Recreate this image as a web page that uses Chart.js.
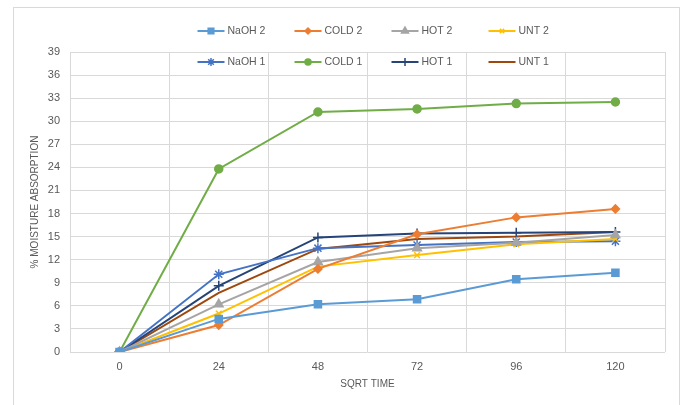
<!DOCTYPE html>
<html lang="en">
<head>
    <meta charset="UTF-8">
    <title>Moisture absorption</title>
    <script src="https://cdn.jsdelivr.net/npm/chart.js"></script>
    <style>
        body {
            margin: 0;
            padding: 0;
            background-color: #ffffff;
            overflow: hidden;
        }
        .frame {
            position: absolute;
            left: 13px;
            top: 7px;
            width: 665px;
            height: 420px;
            border: 1px solid #d9d9d9;
        }
        .chart-container {
            position: absolute;
            left: 0;
            top: 0;
            width: 683px;
            height: 405px;
        }
    </style>
</head>
<body>
    <div class="frame"></div>
    <div class="chart-container">
        <canvas id="moistureChart"></canvas>
    </div>

    <script>
        // categories (x axis)
        const sqrtTime = ['0', '24', '48', '72', '96', '120'];
        const yTicks = [0, 3, 6, 9, 12, 15, 18, 21, 24, 27, 30, 33, 36, 39];

        // series values
        const naoh2 = [0, 4.3, 6.2, 6.85, 9.45, 10.3];
        const cold2 = [0, 3.5, 10.8, 15.3, 17.5, 18.6];
        const hot2  = [0, 6.2, 11.7, 13.5, 14.2, 15.2];
        const unt2  = [0, 5.0, 11.1, 12.6, 14.0, 14.7];
        const naoh1 = [0, 10.1, 13.5, 13.9, 14.3, 14.4];
        const cold1 = [0, 23.8, 31.2, 31.6, 32.3, 32.5];
        const hot1  = [0, 8.6, 14.9, 15.4, 15.5, 15.6];
        const unt1  = [0, 7.7, 13.4, 14.7, 15.0, 15.6];

        const textColor = '#595959';
        const gridColor = '#d9d9d9';
        const fontFamily = "'Liberation Sans', Arial, sans-serif";

        function series(label, data, color, style, radius) {
            return {
                label: label,
                data: data,
                borderColor: color,
                backgroundColor: color,
                borderWidth: 2,
                pointStyle: style,
                pointRadius: style ? radius : 0,
                pointBorderWidth: 1.5,
                tension: 0
            };
        }

        // legend draws 4 per row, in this order
        const datasets = [
            series('NaOH 2', naoh2, '#5b9bd5', 'rect', 5),
            series('COLD 2', cold2, '#ed7d31', 'rectRot', 4),
            series('HOT 2', hot2, '#a5a5a5', 'triangle', 5),
            series('UNT 2', unt2, '#ffc000', 'crossRot', 4),
            series('NaOH 1', naoh1, '#4472c4', 'star', 5),
            series('COLD 1', cold1, '#70ad47', 'circle', 4),
            series('HOT 1', hot1, '#264478', 'cross', 5),
            series('UNT 1', unt1, '#9e480e', false, 0)
        ];

        // excel style legend: short line with the marker in the middle
        const gridLegend = {
            id: 'gridLegend',
            afterDraw(chart) {
                const ctx = chart.ctx;
                const area = chart.chartArea;
                const mid = (area.left + area.right) / 2;
                const colStep = 97;
                const startX = mid - 170;
                const rowY = [area.top - 21, area.top + 10];
                ctx.save();
                chart.data.datasets.forEach((ds, i) => {
                    const x = startX + (i % 4) * colStep;
                    const y = rowY[Math.floor(i / 4)];
                    ctx.strokeStyle = ds.borderColor;
                    ctx.fillStyle = ds.backgroundColor;
                    ctx.lineWidth = 2;
                    ctx.beginPath();
                    ctx.moveTo(x, y);
                    ctx.lineTo(x + 27, y);
                    ctx.stroke();
                    if (ds.pointStyle) {
                        ctx.lineWidth = 1.5;
                        Chart.helpers.drawPoint(ctx, {
                            pointStyle: ds.pointStyle,
                            radius: ds.pointRadius - 1,
                            rotation: 0,
                            borderWidth: 1.5
                        }, x + 13.5, y);
                    }
                    ctx.fillStyle = textColor;
                    ctx.font = '10.5px ' + fontFamily;
                    ctx.textBaseline = 'middle';
                    ctx.textAlign = 'left';
                    ctx.fillText(ds.label, x + 30, y);
                });
                ctx.restore();
            }
        };

        const ctx = document.getElementById('moistureChart').getContext('2d');
        const chart = new Chart(ctx, {
            type: 'line',
            data: {
                labels: sqrtTime,
                datasets: datasets
            },
            options: {
                responsive: true,
                maintainAspectRatio: false,
                animation: false,
                layout: {
                    padding: { left: 25, right: 18, top: 52, bottom: 11 }
                },
                plugins: {
                    legend: { display: false },
                    tooltip: { enabled: false }
                },
                scales: {
                    x: {
                        offset: true,
                        grid: { offset: true, color: gridColor, drawTicks: false },
                        border: { display: false },
                        ticks: {
                            color: textColor,
                            padding: 8,
                            font: { family: fontFamily, size: 11 }
                        },
                        title: {
                            display: true,
                            text: 'SQRT TIME',
                            color: textColor,
                            font: { family: fontFamily, size: 10 }
                        },
                        afterFit(scale) { scale.height = 42; }
                    },
                    y: {
                        min: 0,
                        max: yTicks[yTicks.length - 1],
                        afterBuildTicks(scale) {
                            scale.ticks = yTicks.map(v => ({ value: v }));
                        },
                        grid: { color: gridColor, drawTicks: false },
                        border: { display: false },
                        ticks: {
                            color: textColor,
                            padding: 10,
                            font: { family: fontFamily, size: 11 }
                        },
                        title: {
                            display: true,
                            text: '% MOISTURE ABSORPTION',
                            color: textColor,
                            font: { family: fontFamily, size: 10 }
                        },
                        afterFit(scale) { scale.width = 45; }
                    }
                }
            },
            plugins: [gridLegend]
        });
    </script>
</body>
</html>
